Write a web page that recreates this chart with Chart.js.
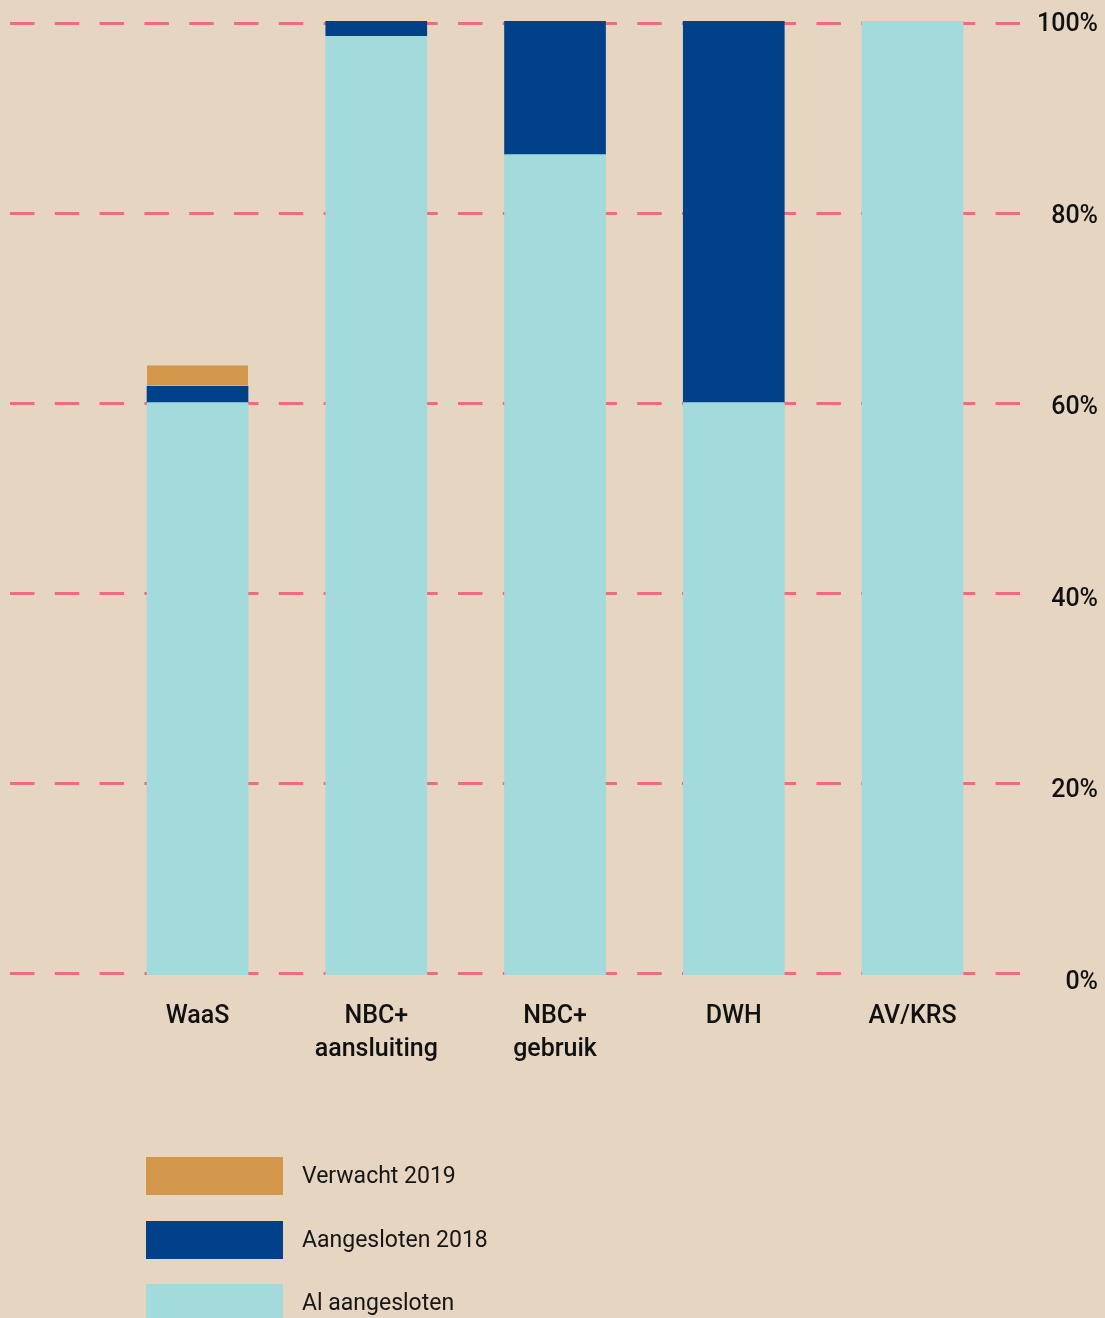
<!DOCTYPE html>
<html>
<head>
<meta charset="utf-8">
<script src="https://cdn.jsdelivr.net/npm/chart.js@4/dist/chart.umd.min.js"></script>
<style>
  html, body { margin: 0; padding: 0; background: #E5D5C1; }
  #wrap { position: relative; width: 1105px; height: 1318px; overflow: hidden; }
  #legend { position: absolute; left: 146px; top: 1157px; font-family: Roboto, sans-serif; font-size: 23px; color: #161616; }
  .item { position: relative; height: 38px; margin-bottom: 25.5px; }
  .box { position: absolute; left: 0; top: 0; width: 137px; height: 38px; }
  .txt { position: absolute; left: 156px; top: 0; line-height: 38px; white-space: nowrap; }
</style>
</head>
<body>
<div id="wrap">
  <canvas id="chart"></canvas>
  <div id="legend"></div>
</div>
<script>
const categories = ['WaaS', 'NBC+\naansluiting', 'NBC+\ngebruik', 'DWH', 'AV/KRS'];
const alAangesloten = [60, 98.4, 86, 60, 100];
const aangesloten2018 = [1.7, 1.6, 14, 40, 0];
const verwacht2019 = [2.2, 0, 0, 0, 0];
const yTicks = [0, 20, 40, 60, 80, 100];

const gridColor = '#EE6B80';
const tickFont = { family: 'Roboto', size: 25, weight: 500 };

const toPoints = (arr) => arr.map((v, i) => ({ x: i, y: v }));

const ctx = document.getElementById('chart').getContext('2d');
const chart = new Chart(ctx, {
  type: 'bar',
  data: {
    datasets: [
      {
        label: 'Al aangesloten',
        data: toPoints(alAangesloten),
        backgroundColor: '#A3DADB',
        borderWidth: 0
      },
      {
        label: 'Aangesloten 2018',
        data: toPoints(aangesloten2018),
        backgroundColor: '#00418A',
        borderWidth: 0
      },
      {
        label: 'Verwacht 2019',
        data: toPoints(verwacht2019),
        backgroundColor: '#D2974A',
        borderColor: '#FFFFFF',
        borderSkipped: false,
        borderWidth: { top: 0, left: 0, right: 0, bottom: 1 }
      }
    ]
  },
  options: {
    responsive: true,
    maintainAspectRatio: false,
    animation: false,
    barThickness: 101,
    layout: { padding: { left: 10, right: 7, top: 21, bottom: 243 } },
    plugins: {
      legend: { display: false },
      tooltip: { enabled: false }
    },
    scales: {
      x: {
        type: 'linear',
        stacked: true,
        offset: false,
        min: -1.049,
        max: 4.601,
        grid: { display: false, offset: false },
        border: { display: false },
        afterBuildTicks: (axis) => {
          axis.ticks = categories.map((_, i) => ({ value: i }));
        },
        afterFit: (axis) => { axis.height = 100; },
        ticks: {
          autoSkip: false,
          maxRotation: 0,
          padding: 17,
          color: '#111111',
          font: { ...tickFont, lineHeight: 1.32 },
          callback: (value) => (categories[value] || '').split('\n')
        }
      },
      // value axis used by the bars
      y: {
        type: 'linear',
        display: false,
        stacked: true,
        min: 0,
        max: 100
      },
      // dashed grid lines (sit slightly inside the bar range in the original)
      yGrid: {
        type: 'linear',
        position: 'right',
        min: -0.126,
        max: 100.263,
        weight: 0,
        afterBuildTicks: (axis) => {
          axis.ticks = yTicks.map((v) => ({ value: v }));
        },
        afterFit: (axis) => { axis.width = 17; },
        ticks: { display: false },
        grid: { color: gridColor, lineWidth: 3, drawTicks: false },
        border: { display: false, dash: [24.5, 20.3] }
      },
      // percentage labels
      yLab: {
        type: 'linear',
        position: 'right',
        min: 0.814,
        max: 100.386,
        weight: 1,
        grid: { display: false, drawTicks: false },
        border: { display: false },
        afterBuildTicks: (axis) => {
          axis.ticks = yTicks.map((v) => ({ value: v }));
        },
        ticks: {
          autoSkip: false,
          crossAlign: 'far',
          padding: 0,
          color: '#111111',
          font: tickFont,
          callback: (value) => value + '%'
        }
      }
    }
  }
});

// legend, top to bottom in reverse stacking order
const legend = document.getElementById('legend');
chart.data.datasets.slice().reverse().forEach((ds) => {
  const item = document.createElement('div');
  item.className = 'item';
  const box = document.createElement('div');
  box.className = 'box';
  box.style.background = ds.backgroundColor;
  const txt = document.createElement('div');
  txt.className = 'txt';
  txt.textContent = ds.label;
  item.appendChild(box);
  item.appendChild(txt);
  legend.appendChild(item);
});
</script>
</body>
</html>
